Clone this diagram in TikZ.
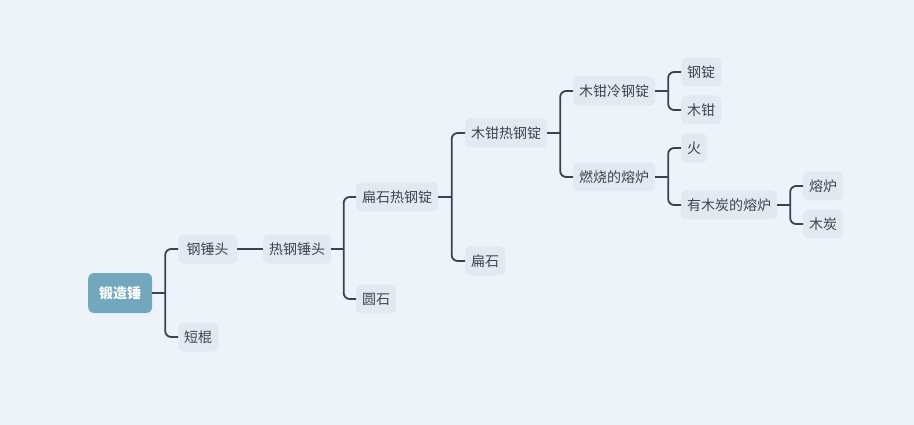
\documentclass[tikz,border=0pt]{standalone}
\usepackage{fontspec}
\setmainfont{Noto Sans CJK SC}
\usetikzlibrary{calc}
\definecolor{bgc}{HTML}{EEF3FA}
\definecolor{boxc}{HTML}{E2E9F1}
\definecolor{rootc}{HTML}{72A7BE}
\definecolor{txtc}{HTML}{3C4452}
\definecolor{linec}{HTML}{394256}
\tikzset{
  mmbox/.style={fill=boxc, rounded corners=5pt, text=txtc, inner xsep=6pt, inner ysep=0pt,
    minimum height=29pt, anchor=west, font=\fontsize{14}{16}\selectfont},
  mmroot/.style={fill=rootc, rounded corners=6pt, text=white, minimum width=64pt, minimum height=40pt,
    inner sep=0pt, anchor=west, font=\fontsize{14}{16}\selectfont\bfseries},
  conn/.style={draw=linec, line width=1.8pt},
}
\newcommand{\mmlink}[2]{%
  \coordinate (j-#1-#2) at ($(#1.east)!0.5!(#2.west |- #1.east)$);
  \draw[conn] (#1.east) -- (j-#1-#2);
  \draw[conn, rounded corners=6pt] (j-#1-#2) |- (#2.west);}
\begin{document}
\begin{tikzpicture}[x=1pt,y=-1pt]
\fill[bgc] (0,0) rectangle (914,425);
\useasboundingbox (0,0) rectangle (914,425);
\node[mmroot] (root) at (88,293) {锻造锤};
\node[mmbox, minimum width=59pt] (a) at (178,249) {钢锤头};
\node[mmbox] (b) at (178,337) {短棍};
\node[mmbox] (c) at (263,249) {热钢锤头};
\node[mmbox] (d) at (356,197) {扁石热钢锭};
\node[mmbox] (e) at (356,299) {圆石};
\node[mmbox] (f) at (465,133) {木钳热钢锭};
\node[mmbox] (g) at (465,261) {扁石};
\node[mmbox] (h) at (573,91) {木钳冷钢锭};
\node[mmbox] (i) at (573,177) {燃烧的熔炉};
\node[mmbox] (k) at (681,72) {钢锭};
\node[mmbox] (l) at (681,110) {木钳};
\node[mmbox] (m) at (681,148) {火};
\node[mmbox] (n) at (681,205) {有木炭的熔炉};
\node[mmbox] (o) at (803,186) {熔炉};
\node[mmbox] (p) at (803,224) {木炭};
\mmlink{root}{a}
\mmlink{root}{b}
\draw[conn] (a.east) -- (c.west);
\mmlink{c}{d}
\mmlink{c}{e}
\mmlink{d}{f}
\mmlink{d}{g}
\mmlink{f}{h}
\mmlink{f}{i}
\mmlink{h}{k}
\mmlink{h}{l}
\mmlink{i}{m}
\mmlink{i}{n}
\mmlink{n}{o}
\mmlink{n}{p}
\end{tikzpicture}
\end{document}
